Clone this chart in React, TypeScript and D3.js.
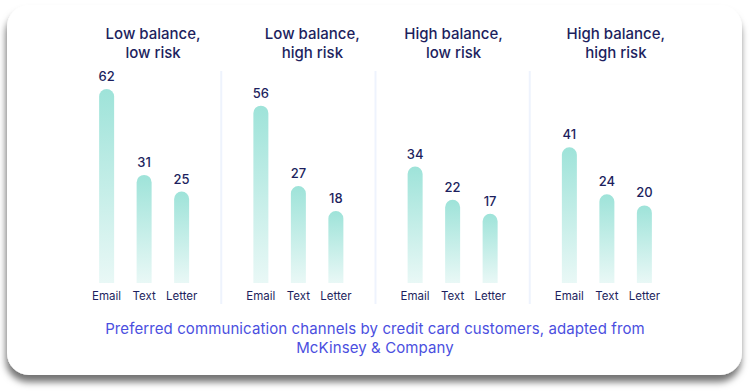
import React from "react";
import * as d3 from "d3";

const panels = ["Low balance,\nlow risk", "Low balance,\nhigh risk", "High balance,\nlow risk", "High balance,\nhigh risk"];
const channels = ["Email", "Text", "Letter"];
const lowBalanceLowRisk = [62, 31, 25];
const lowBalanceHighRisk = [56, 27, 18];
const highBalanceLowRisk = [34, 22, 17];
const highBalanceHighRisk = [41, 24, 20];
const caption = ["Preferred communication channels by credit card customers, adapted from", "McKinsey & Company"];

const series = [lowBalanceLowRisk, lowBalanceHighRisk, highBalanceLowRisk, highBalanceHighRisk];

const W = 750;
const H = 391;
const FONT = "Inter, 'Noto Sans', sans-serif";
const NAVY = "#1d1f5e";
const titleShift = [9, 14, 1, 9];

export default function App() {
  const bottom = 283;
  const panelX = d3.scaleBand<number>().domain(d3.range(panels.length)).range([67, 684]);
  const barX = d3.scalePoint<string>().domain(channels).range([-37.5, 37.5]);
  const y = d3.scaleLinear().domain([-8, 62]).range([bottom, 89]);
  const barW = 15;
  const r = barW / 2;

  const barPath = (cx: number, top: number) => {
    const x0 = cx - r;
    const x1 = cx + r;
    return `M${x0},${bottom} L${x0},${top + r} A${r},${r} 0 0 1 ${x1},${top + r} L${x1},${bottom} Z`;
  };

  return (
    <div style={{ position: "fixed", left: 0, top: 0, width: W, height: H, background: "#fff" }}>
      <svg width={W} height={H} style={{ display: "block" }}>
        <defs>
          <filter id="shadow" x="-10%" y="-10%" width="120%" height="130%">
            <feDropShadow dx="-1" dy="7" stdDeviation="3.5" floodColor="#000" floodOpacity="0.55" />
          </filter>
          <linearGradient id="barGrad" x1="0" y1="0" x2="0" y2="1">
            <stop offset="0" stopColor="#9ee3d9" />
            <stop offset="1" stopColor="#e9f8f6" />
          </linearGradient>
        </defs>
        <rect x={7} y={5} width={735} height={370} rx={22} ry={22} fill="#fff" filter="url(#shadow)" />
        {d3.range(1, panels.length).map((i) => {
          const x = (panelX(i) as number);
          return <line key={"d" + i} x1={x} x2={x} y1={71} y2={304} stroke="#eef3fd" strokeWidth={2} />;
        })}
        {panels.map((p, i) => {
          const cx = (panelX(i) as number) + panelX.bandwidth() / 2;
          const lines = p.split("\n");
          return (
            <g key={p}>
              {lines.map((l, j) => (
                <text key={j} x={cx + titleShift[i]} y={39 + j * 19} textAnchor="middle" fontFamily={FONT} fontSize={15} fontWeight={500} fill={NAVY}>
                  {l}
                </text>
              ))}
              {channels.map((c, k) => {
                const v = series[i][k];
                const bx = cx + (barX(c) as number);
                const top = y(v);
                return (
                  <g key={c}>
                    <path d={barPath(bx, top)} fill="url(#barGrad)" />
                    <text x={bx} y={top - 8} textAnchor="middle" fontFamily={FONT} fontSize={13} fontWeight={500} fill={NAVY}>
                      {v}
                    </text>
                    <text x={bx} y={300} textAnchor="middle" fontFamily={FONT} fontSize={11.5} fill={NAVY}>
                      {c}
                    </text>
                  </g>
                );
              })}
            </g>
          );
        })}
        {caption.map((l, j) => (
          <text key={j} x={375} y={334 + j * 19} textAnchor="middle" fontFamily={FONT} fontSize={15} letterSpacing={0.1} fill="#4b4fe0">
            {l}
          </text>
        ))}
      </svg>
    </div>
  );
}
